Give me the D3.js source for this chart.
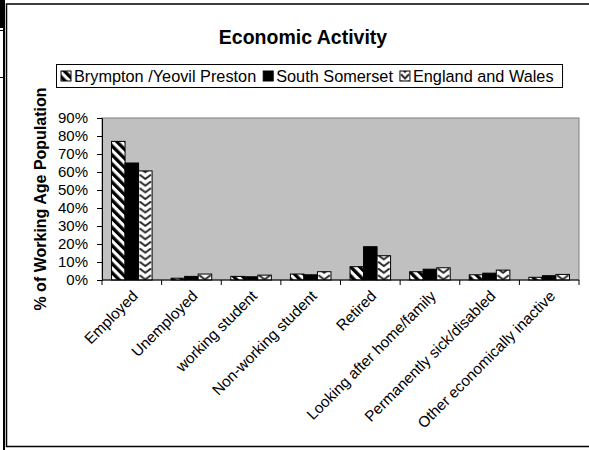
<!DOCTYPE html>
<html><head><meta charset="utf-8">
<script src="https://cdn.jsdelivr.net/npm/d3@7/dist/d3.min.js"></script>
<style>
body{margin:0;background:#fff;}
svg{display:block;font-family:Arial,"Liberation Sans",sans-serif;}
</style></head>
<body><svg id="c" width="589" height="450"></svg>
<script>
const categories = ["Employed","Unemployed","working student","Non-working student","Retired","Looking after home/family","Permanently sick/disabled","Other economically inactive"];
const seriesNames = ["Brympton /Yeovil Preston","South Somerset","England and Wales"];
const brympton = [77, 1, 2, 3.3, 7.4, 4.6, 2.9, 1.5];
const southSomerset = [65, 2, 1.8, 2.9, 18.5, 6, 3.8, 2.4];
const englandWales = [60.6, 3.3, 2.7, 4.6, 13.5, 6.8, 5.5, 3.1];
const yTicks = [0,10,20,30,40,50,60,70,80,90];
const title = "Economic Activity";
const yTitle = "% of Working Age Population";

const seriesValues = [brympton, southSomerset, englandWales];
const svg = d3.select("#c");
const defs = svg.append("defs");

// frame
svg.append("rect").attr("x",0).attr("y",0).attr("width",5).attr("height",28).attr("fill","#000");
svg.append("line").attr("x1",4).attr("x2",4).attr("y1",28).attr("y2",450).attr("stroke","#000").attr("stroke-width",2);
[30.5,77.5].forEach(yy=>svg.append("line").attr("x1",0).attr("x2",4).attr("y1",yy).attr("y2",yy).attr("stroke","#000"));
svg.append("rect").attr("x",6.5).attr("y",4).attr("width",600).attr("height",442.5).attr("fill","none").attr("stroke","#000").attr("stroke-width",1.5);

const plot = {l:102, r:579, t:118, b:280};
const y = d3.scaleLinear().domain([0,90]).range([plot.b, plot.t]);
const x0 = d3.scaleBand().domain(categories).range([plot.l, plot.r]).paddingInner(0.32).paddingOuter(0.16);
const x1 = d3.scaleBand().domain(seriesNames).range([0, x0.bandwidth()]).padding(0);
const bw = x1.bandwidth();

// patterns
const stripe = defs.append("pattern").attr("id","p0").attr("patternUnits","userSpaceOnUse")
  .attr("width",6.4).attr("height",6.4).attr("patternTransform","rotate(-45)");
stripe.append("rect").attr("width",6.4).attr("height",6.4).attr("fill","#fff");
stripe.append("rect").attr("width",3.3).attr("height",6.4).attr("fill","#000");

function chevron(id, x0pos, w){
  const p = defs.append("pattern").attr("id",id).attr("patternUnits","userSpaceOnUse")
    .attr("x",x0pos).attr("y",0).attr("width",w).attr("height",6.7);
  p.append("rect").attr("width",w).attr("height",6.7).attr("fill","#fff");
  p.append("polyline").attr("points",`1,0.5 ${w/2},4.8 ${w-1},0.5`).attr("fill","none").attr("stroke","#222").attr("stroke-width",2);
}
categories.forEach((c,i)=>chevron("pc"+i, x0(c)+x1(seriesNames[2]), bw));
chevron("pcl", 0, 10);

// plot background
svg.append("rect").attr("x",plot.l).attr("y",plot.t).attr("width",plot.r-plot.l).attr("height",plot.b-plot.t)
  .attr("fill","#c0c0c0").attr("stroke","#808080").attr("stroke-width",1);

// bars
const fills = [()=>"url(#p0)", ()=>"#000", (i)=>`url(#pc${i})`];
seriesNames.forEach((s,si)=>{
  svg.append("g").selectAll("rect").data(seriesValues[si]).join("rect")
    .attr("x",(d,i)=>x0(categories[i])+x1(s))
    .attr("y",d=>y(d))
    .attr("width",bw)
    .attr("height",d=>y(0)-y(d))
    .attr("fill",(d,i)=>fills[si](i))
    .attr("stroke","#000").attr("stroke-width",1);
});

// y axis
const yAxis = svg.append("g").attr("transform",`translate(${plot.l},0)`)
  .call(d3.axisLeft(y).tickValues(yTicks).tickFormat(d=>d+"%").tickSize(5).tickPadding(9));
yAxis.select(".domain").attr("stroke","#000");
yAxis.selectAll("text").attr("font-size",15).attr("font-family","Arial, 'Liberation Sans', sans-serif").attr("fill","#000");

// x axis
svg.append("line").attr("x1",plot.l).attr("x2",plot.r).attr("y1",plot.b).attr("y2",plot.b).attr("stroke","#000");
svg.append("g").selectAll("line").data(d3.range(categories.length+1)).join("line")
  .attr("x1",i=>plot.l+i*x0.step()).attr("x2",i=>plot.l+i*x0.step())
  .attr("y1",plot.b).attr("y2",plot.b+5).attr("stroke","#000");
svg.append("g").selectAll("text").data(categories).join("text")
  .attr("transform",d=>`translate(${x0(d)+x0.bandwidth()/2+7},${plot.b+17}) rotate(-45)`)
  .attr("text-anchor","end").attr("font-size",15.3).attr("fill","#000").text(d=>d);

// titles
svg.append("text").attr("x",303).attr("y",44).attr("text-anchor","middle")
  .attr("font-size",19.5).attr("font-weight","bold").text(title);
svg.append("text").attr("transform",`translate(46,${(plot.t+plot.b)/2}) rotate(-90)`)
  .attr("text-anchor","middle").attr("font-size",16).attr("font-weight","bold").text(yTitle);

// legend
const lg = svg.append("g");
const lgFills = ["url(#p0)","#000","url(#pcl)"];
let lx = 61;
const ly = 76;
seriesNames.forEach((s,i)=>{
  lg.append("rect").attr("x",lx).attr("y",ly-5).attr("width",10).attr("height",10)
    .attr("fill",lgFills[i]).attr("stroke","#000").attr("stroke-width",1);
  const t = lg.append("text").attr("x",lx+13).attr("y",ly+5.8).attr("font-size",16.3).text(s);
  lx += 13 + t.node().getComputedTextLength() + 7;
});
lg.insert("rect",":first-child").attr("x",56.5).attr("y",64.5).attr("width",lx-56.5+2).attr("height",23)
  .attr("fill","#fff").attr("stroke","#000").attr("stroke-width",1);
</script></body></html>
